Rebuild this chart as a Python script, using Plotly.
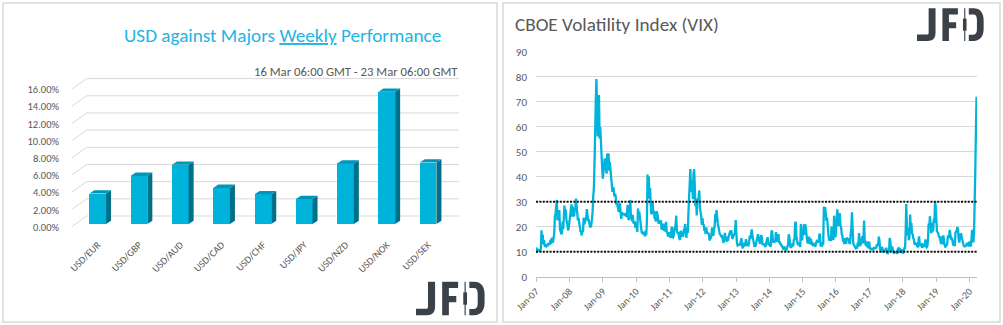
import pandas as pd
import plotly.graph_objects as go

W, H = 1003, 325

# ---------------- weekly FX performance (left panel) ----------------
pairs = ["USD/EUR", "USD/GBP", "USD/AUD", "USD/CAD", "USD/CHF",
         "USD/JPY", "USD/NZD", "USD/NOK", "USD/SEK"]
weekly_change = [3.55, 5.6, 6.9, 4.2, 3.45, 2.9, 7.05, 15.4, 7.15]
pct_ticks = [0, 2, 4, 6, 8, 10, 12, 14, 16]

# ---------------- CBOE VIX weekly closes (right panel) ----------------
vix_2007 = [11.7, 10.2, 10.4, 11.1, 10.1, 11.1, 10.0, 11.2, 18.6, 13.8, 16.8, 12.9, 14.6,
            12.4, 12.3, 12.1, 13.0, 12.6, 12.3, 13.5, 13.1, 12.8, 14.7, 13.1, 15.5, 15.1,
            13.6, 15.0, 17.4, 24.2, 25.2, 28.0, 30.7, 22.6, 23.4, 26.2, 26.2, 19.0, 18.0,
            17.0, 17.4, 22.0, 19.0, 23.0, 28.5, 24.1, 26.8, 22.9, 20.7, 20.3, 18.5, 20.3]
vix_2008 = [23.2, 23.7, 27.2, 29.0, 24.0, 28.0, 25.0, 24.1, 26.5, 27.5, 31.2, 26.6, 25.7,
            22.5, 23.5, 20.3, 20.0, 18.2, 18.0, 16.5, 18.5, 17.8, 23.6, 20.9, 22.2, 22.9,
            23.4, 27.0, 23.1, 22.6, 22.6, 20.7, 20.1, 19.8, 20.7, 23.1, 25.7, 32.1, 35.0,
            45.1, 69.9, 70.3, 79.1, 59.9, 56.1, 66.3, 72.7, 55.3, 59.9, 54.3, 44.9, 43.4]
vix_2009 = [39.2, 42.8, 46.1, 47.3, 44.8, 43.4, 41.2, 49.3, 46.4, 49.3, 42.4, 45.9, 40.1,
            39.7, 37.0, 33.9, 35.8, 35.3, 32.1, 33.1, 32.6, 28.9, 29.6, 28.2, 27.9, 25.9,
            29.2, 29.0, 25.0, 23.1, 25.9, 24.8, 25.0, 25.0, 24.8, 25.3, 24.2, 23.9, 26.0,
            28.7, 23.1, 22.7, 24.6, 30.7, 24.2, 23.4, 22.2, 24.7, 21.3, 21.6, 21.7, 19.5]
vix_2010 = [21.7, 18.1, 17.9, 27.3, 24.6, 26.1, 22.7, 20.0, 19.5, 17.4, 17.6, 16.9, 17.8,
            17.5, 16.1, 18.4, 16.6, 22.1, 40.9, 31.2, 40.1, 32.1, 35.5, 28.8, 24.9, 28.5,
            30.1, 24.9, 26.3, 23.5, 23.5, 22.1, 26.2, 25.5, 24.5, 21.3, 21.6, 22.0, 21.7,
            22.5, 18.9, 19.1, 19.1, 21.2, 18.3, 20.6, 18.0, 22.0, 18.0, 17.6, 16.1, 16.5, 17.8]
vix_2011 = [17.1, 15.5, 18.5, 20.0, 15.9, 15.7, 16.4, 19.2, 19.1, 21.1, 24.4, 18.0, 17.4,
            17.9, 15.3, 15.1, 14.8, 18.4, 17.1, 17.4, 16.0, 18.0, 18.9, 19.0, 21.1, 16.1,
            16.0, 19.5, 17.5, 25.3, 32.0, 36.4, 43.1, 35.6, 33.9, 38.5, 31.0, 41.3, 43.0,
            36.2, 28.2, 31.3, 24.5, 30.5, 30.0, 32.0, 34.5, 27.5, 26.4, 24.3, 20.7, 23.4]
vix_2012 = [20.6, 20.9, 18.3, 18.5, 17.1, 19.7, 17.8, 17.3, 17.3, 17.1, 14.5, 15.0, 15.5,
            16.7, 19.6, 17.4, 16.3, 19.2, 19.9, 25.1, 22.0, 26.7, 21.2, 21.1, 20.1, 17.1,
            17.1, 16.7, 16.3, 16.7, 15.6, 14.7, 13.5, 15.2, 17.5, 15.6, 14.5, 14.0, 16.0,
            14.3, 16.1, 17.1, 17.8, 17.6, 18.6, 16.4, 15.1, 16.0, 16.6, 17.0, 17.8, 22.7]
vix_2013 = [13.8, 13.4, 12.5, 12.9, 12.9, 13.0, 12.5, 14.2, 15.4, 12.6, 11.3, 13.6, 12.7,
            12.9, 12.1, 15.0, 13.6, 12.9, 12.6, 12.5, 13.8, 16.3, 15.1, 17.2, 18.9, 16.9,
            14.9, 14.0, 12.5, 12.7, 12.0, 13.4, 14.4, 14.8, 17.0, 15.4, 14.2, 13.1, 15.5,
            16.7, 15.7, 13.0, 13.1, 12.9, 12.9, 12.2, 12.3, 13.7, 15.1, 15.8, 13.8, 12.5]
vix_2014 = [13.8, 12.1, 12.4, 18.1, 18.4, 15.3, 13.6, 14.7, 14.0, 14.1, 17.8, 15.0, 14.4,
            14.0, 17.0, 13.4, 14.1, 12.9, 12.9, 12.4, 11.4, 11.4, 10.7, 12.2, 10.9, 11.3,
            10.3, 12.1, 12.1, 12.7, 17.0, 15.8, 13.2, 11.5, 12.0, 12.1, 13.3, 12.1, 14.9,
            14.6, 21.2, 22.0, 16.1, 14.0, 13.1, 13.3, 12.9, 13.3, 11.9, 21.1, 16.5, 14.5]
vix_2015 = [17.8, 17.6, 21.0, 16.7, 21.0, 17.3, 14.7, 14.3, 13.3, 15.2, 16.0, 13.0, 15.1,
            14.7, 12.6, 13.9, 12.3, 12.7, 12.9, 12.4, 12.1, 13.8, 14.2, 13.8, 14.0, 14.0,
            16.8, 16.8, 12.0, 13.7, 12.1, 13.4, 12.8, 28.0, 26.1, 27.8, 23.2, 22.3, 23.6,
            17.1, 17.1, 15.1, 14.5, 15.1, 14.3, 20.1, 15.5, 15.1, 14.8, 24.4, 20.7, 15.7]
vix_2016 = [18.2, 27.0, 27.0, 22.3, 20.2, 23.4, 25.4, 20.5, 19.8, 16.9, 16.5, 14.0, 14.7,
            13.1, 15.4, 13.6, 13.2, 15.7, 14.7, 15.0, 15.2, 13.1, 13.5, 17.0, 19.4, 25.8,
            14.8, 13.2, 12.7, 12.0, 11.9, 11.4, 11.6, 11.3, 13.6, 12.0, 17.5, 15.4, 12.3,
            13.3, 13.5, 16.1, 13.3, 16.2, 22.5, 14.2, 12.9, 12.3, 14.1, 11.8, 12.2, 11.4, 14.0]
vix_2017 = [11.3, 11.2, 11.5, 10.6, 11.0, 10.9, 11.5, 11.5, 11.0, 11.7, 11.3, 13.0, 12.4,
            12.9, 16.0, 14.6, 10.8, 10.6, 10.4, 12.0, 9.8, 9.8, 10.7, 10.4, 10.0, 11.2,
            11.2, 9.5, 9.4, 10.3, 10.0, 15.5, 14.3, 11.3, 10.1, 12.1, 10.2, 9.6, 9.5,
            9.7, 9.6, 10.0, 9.8, 9.1, 11.3, 11.4, 9.7, 11.4, 9.6, 10.5, 9.9, 11.0]
vix_2018 = [9.2, 10.2, 11.3, 11.1, 17.3, 29.1, 19.5, 16.5, 19.6, 14.6, 15.8, 24.9, 20.0,
            21.5, 17.4, 16.9, 15.4, 14.8, 12.7, 13.4, 13.2, 13.5, 12.2, 12.0, 13.8, 16.1,
            13.4, 12.2, 12.9, 13.0, 11.6, 13.2, 12.6, 12.0, 12.9, 14.9, 12.1, 11.7, 12.1,
            14.8, 21.3, 19.9, 24.2, 19.5, 17.4, 18.1, 21.5, 18.1, 23.2, 21.6, 30.1, 28.3]
vix_2019 = [21.4, 18.2, 17.8, 17.4, 16.1, 16.0, 14.9, 13.5, 13.6, 16.1, 12.9, 16.5, 13.7,
            12.8, 12.0, 12.1, 12.7, 12.9, 16.0, 16.0, 15.9, 18.7, 16.3, 15.3, 15.4, 15.1,
            13.3, 12.4, 14.5, 12.2, 17.6, 18.0, 18.5, 19.9, 19.0, 15.0, 13.7, 15.3, 17.2,
            17.0, 15.6, 14.3, 12.7, 12.3, 12.1, 12.1, 12.3, 12.6, 13.6, 12.6, 12.5, 13.4]
vix_2020 = [14.0, 12.6, 12.1, 14.6, 18.8, 15.5, 13.7, 17.1, 40.1, 41.9, 57.8, 72.0]

vix_by_year = {2007: vix_2007, 2008: vix_2008, 2009: vix_2009, 2010: vix_2010,
               2011: vix_2011, 2012: vix_2012, 2013: vix_2013, 2014: vix_2014,
               2015: vix_2015, 2016: vix_2016, 2017: vix_2017, 2018: vix_2018,
               2019: vix_2019, 2020: vix_2020}
vix_levels = [10, 30]
vix_ticks = list(range(0, 91, 10))
year_ticks = list(range(2007, 2021))

vix_dates, vix_values = [], []
for year, vals in vix_by_year.items():
    fridays = pd.date_range(f"{year}-01-01", periods=len(vals), freq="W-FRI")
    vix_dates.extend(fridays)
    vix_values.extend(vals)

GREY_TXT = "#595959"
GRID = "#d9d9d9"
FONT = "Carlito, Lato, sans-serif"


def fx(px):
    return px / W


def fy(px):
    return 1 - px / H


fig = go.Figure()

# ---- left panel: pseudo-3D columns ----
slot_px = 41.3          # pixel width of one category slot
unit_px = 8.59          # pixels per 1 %
half_w = 0.202          # half of the column front width (category units)
depth_x = 5 / slot_px   # depth offset of the column sides
depth_y = 3.3 / unit_px

xs = list(range(len(pairs)))
fig.add_trace(go.Bar(
    x=xs, y=weekly_change, width=2 * half_w,
    marker=dict(color="#00b3db", line=dict(width=0)),
    xaxis="x", yaxis="y", showlegend=False, hoverinfo="skip",
))

shapes = []
for i, v in zip(xs, weekly_change):
    xr = i + half_w
    xl = i - half_w
    shapes.append(dict(
        type="path", xref="x", yref="y", layer="above",
        path=f"M{xr},0 L{xr + depth_x},{depth_y} L{xr + depth_x},{v + depth_y} L{xr},{v} Z",
        fillcolor="#006f88", line=dict(width=0)))
    shapes.append(dict(
        type="path", xref="x", yref="y", layer="above",
        path=f"M{xl},{v} L{xr},{v} L{xr + depth_x},{v + depth_y} L{xl + depth_x},{v + depth_y} Z",
        fillcolor="#0096b8", line=dict(width=0)))

# back-wall gridlines with the slanted floor edge
front_dx = -0.63
back_dx = -0.266
right_end = 8.75
front_dy = -0.31
back_dy = 0.93
for t in pct_ticks:
    shapes.append(dict(
        type="path", xref="x", yref="y", layer="below",
        path=(f"M{front_dx},{t + front_dy} L{back_dx},{t + back_dy} "
              f"L{right_end},{t + back_dy}"),
        line=dict(color=GRID, width=1)))

x_lo_px, x_hi_px = 70, 461
base_px = 224
y_top_px, y_bot_px = 75, 230
fig.update_layout(
    xaxis=dict(
        domain=[fx(x_lo_px), fx(x_hi_px)],
        range=[(x_lo_px - 97.7) / slot_px, (x_hi_px - 97.7) / slot_px],
        tickvals=xs, ticktext=pairs, tickangle=-45,
        tickfont=dict(family=FONT, size=10, color=GREY_TXT),
        showgrid=False, zeroline=False, showline=False, ticks="",
        ticklabelstandoff=6, fixedrange=True, automargin=False,
    ),
    yaxis=dict(
        domain=[fy(y_bot_px), fy(y_top_px)],
        range=[-(y_bot_px - base_px) / unit_px, (base_px - y_top_px) / unit_px],
        tickvals=pct_ticks, ticktext=[f"{t:.2f}%" for t in pct_ticks],
        tickfont=dict(family=FONT, size=10.5, color=GREY_TXT),
        showgrid=False, zeroline=False, showline=False, ticks="",
        ticklabelshift=3, ticklabelstandoff=10, fixedrange=True, automargin=False,
    ),
)

# ---- right panel: VIX line ----
fig.add_trace(go.Scatter(
    x=vix_dates, y=vix_values, mode="lines",
    line=dict(color="#00b4dc", width=2.3),
    xaxis="x2", yaxis="y2", showlegend=False, hoverinfo="skip",
))

for lvl in vix_levels:
    shapes.append(dict(
        type="line", xref="x2 domain", yref="y2", x0=0, x1=1, y0=lvl, y1=lvl,
        layer="above", line=dict(color="#111111", width=2, dash="2px,1.4px")))

fig.update_layout(
    xaxis2=dict(
        domain=[fx(536), fx(977)], anchor="y2", type="date",
        range=["2007-01-01", "2020-03-25"],
        tickvals=[f"{y}-01-01" for y in year_ticks],
        ticktext=[f"Jan-{y % 100:02d}" for y in year_ticks],
        tickangle=-45, tickfont=dict(family=FONT, size=10, color=GREY_TXT),
        showgrid=False, zeroline=False, showline=True, linecolor="#bfbfbf", linewidth=1,
        ticks="outside", ticklen=4, tickcolor="#bfbfbf", fixedrange=True,
        automargin=False,
    ),
    yaxis2=dict(
        domain=[fy(276.7), fy(51.7)], anchor="x2", range=[0, 90],
        tickvals=vix_ticks, tickfont=dict(family=FONT, size=11, color=GREY_TXT),
        showgrid=True, gridcolor=GRID, gridwidth=1, zeroline=False, showline=False,
        ticks="", ticklabelstandoff=8, fixedrange=True, automargin=False,
    ),
)

# panel frames
for x0, x1 in [(3, 497), (503, 1000)]:
    shapes.append(dict(type="rect", xref="paper", yref="paper",
                       x0=fx(x0), x1=fx(x1), y0=fy(322), y1=fy(3),
                       line=dict(color="#d9d9d9", width=1.5), layer="below"))

# ---- JFD logo drawn as paper-space paths (unit box ~65 x 32 px) ----
LOGO_PARTS = [
    # J
    [("M", [(11.3, 0)]), ("L", [(18, 0)]), ("L", [(18, 23.5)]),
     ("C", [(18, 29.5), (15, 31.7), (10.5, 31.7)]), ("L", [(0, 31.7)]),
     ("L", [(0, 25.5)]), ("L", [(10, 25.5)]),
     ("C", [(11, 25.5), (11.3, 24.8), (11.3, 23.5)]), ("Z", [])],
    # F
    [("M", [(24.7, 0)]), ("L", [(39.7, 0)]), ("L", [(39.7, 6)]), ("L", [(31, 6)]),
     ("L", [(31, 13.5)]), ("L", [(38, 13.5)]), ("L", [(38, 19.3)]), ("L", [(31, 19.3)]),
     ("L", [(31, 31.7)]), ("L", [(24.7, 31.7)]), ("Z", [])],
    # candle wick
    [("M", [(45.8, 0)]), ("L", [(46.9, 0)]), ("L", [(46.9, 31.7)]),
     ("L", [(45.8, 31.7)]), ("Z", [])],
    # candle body
    [("M", [(44.6, 10)]), ("L", [(48.1, 10)]), ("L", [(48.1, 21.7)]),
     ("L", [(44.6, 21.7)]), ("Z", [])],
    # D bowl
    [("M", [(50.3, 0)]), ("L", [(55, 0)]),
     ("C", [(61.2, 0), (64.7, 4.5), (64.7, 11.5)]), ("L", [(64.7, 20.2)]),
     ("C", [(64.7, 27.2), (61.2, 31.7), (55, 31.7)]), ("L", [(50.3, 31.7)]),
     ("L", [(50.3, 25.7)]), ("L", [(54.8, 25.7)]),
     ("C", [(57, 25.7), (58.2, 24), (58.2, 20.2)]), ("L", [(58.2, 11.5)]),
     ("C", [(58.2, 7.7), (57, 6), (54.8, 6)]), ("L", [(50.3, 6)]), ("Z", [])],
]


def logo_shapes(left, top, scale):
    out = []
    for part in LOGO_PARTS:
        segs = []
        for cmd, pts in part:
            coords = " ".join(f"{fx(left + scale * px):.5f},{fy(top + scale * py):.5f}"
                              for px, py in pts)
            segs.append(f"{cmd}{coords}" if coords else cmd)
        out.append(dict(type="path", xref="paper", yref="paper", layer="above",
                        path=" ".join(segs), fillcolor="#3b4148",
                        line=dict(width=0)))
    return out


shapes += logo_shapes(416, 281.7, 1.06)
shapes += logo_shapes(917, 8.3, 1.03)

annotations = [
    dict(text="USD against Majors <u>Weekly</u> Performance", x=fx(282), y=fy(36),
         xref="paper", yref="paper", xanchor="center", yanchor="middle", showarrow=False,
         font=dict(family=FONT, size=19.2, color="#22b4e2")),
    dict(text="16 Mar 06:00 GMT - 23 Mar 06:00 GMT", x=fx(460), y=fy(71),
         xref="paper", yref="paper", xanchor="right", yanchor="middle", showarrow=False,
         font=dict(family=FONT, size=12.7, color=GREY_TXT)),
    dict(text="CBOE Volatility Index (VIX)", x=fx(513), y=fy(25),
         xref="paper", yref="paper", xanchor="left", yanchor="middle", showarrow=False,
         font=dict(family=FONT, size=19.2, color=GREY_TXT)),
]

fig.update_layout(
    width=W, height=H,
    margin=dict(l=0, r=0, t=0, b=0, pad=0, autoexpand=False),
    paper_bgcolor="white", plot_bgcolor="rgba(0,0,0,0)",
    shapes=shapes, annotations=annotations, bargap=0,
)

fig.write_html("out.html", config={"displayModeBar": False})
